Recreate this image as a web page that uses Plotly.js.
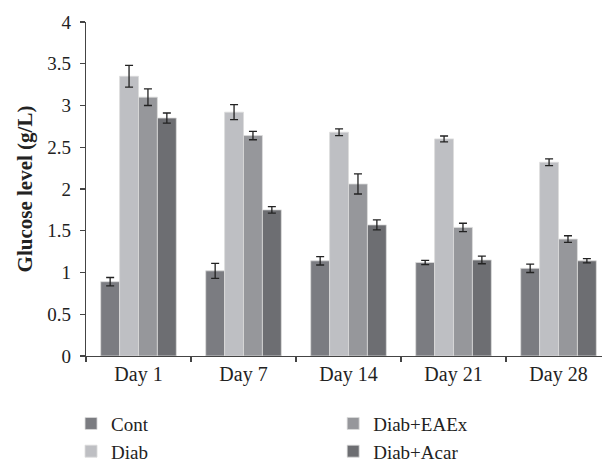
<!DOCTYPE html>
<html>
<head>
<meta charset="utf-8">
<script src="https://cdn.plot.ly/plotly-3.0.1.min.js"></script>
<style>html,body{margin:0;padding:0;background:#fff;}</style>
</head>
<body>
<div id="chart" style="width:602px;height:464px;"></div>
<script>
const days = ["Day 1", "Day 7", "Day 14", "Day 21", "Day 28"];
const seriesNames = ["Cont", "Diab", "Diab+EAEx", "Diab+Acar"];
const cont = [0.89, 1.02, 1.14, 1.12, 1.05];
const contErr = [0.05, 0.09, 0.05, 0.025, 0.05];
const diab = [3.35, 2.92, 2.68, 2.60, 2.32];
const diabErr = [0.13, 0.09, 0.04, 0.035, 0.04];
const eaex = [3.10, 2.64, 2.06, 1.54, 1.40];
const eaexErr = [0.10, 0.05, 0.12, 0.05, 0.04];
const acar = [2.85, 1.75, 1.57, 1.15, 1.14];
const acarErr = [0.06, 0.04, 0.06, 0.045, 0.025];
const yTicks = [0, 0.5, 1, 1.5, 2, 2.5, 3, 3.5, 4];

const colors = ["#7b7c81", "#bebfc3", "#96979b", "#6d6e72"];
const legendIds = ["legend", "legend", "legend2", "legend2"];
const vals = [cont, diab, eaex, acar];
const errs = [contErr, diabErr, eaexErr, acarErr];

const traces = seriesNames.map((name, i) => ({
  type: "bar",
  name: name,
  x: days,
  y: vals[i],
  legend: legendIds[i],
  marker: {color: colors[i], line: {color: "#dcdcdc", width: 0.8}},
  error_y: {type: "data", array: errs[i], visible: true, color: "#222", thickness: 1.3, width: 4}
}));

const font = {family: "Liberation Serif, Times New Roman, serif", color: "#222"};

const legendBase = {
  orientation: "v", xref: "paper", yref: "container",
  xanchor: "left", y: 0.128, yanchor: "top",
  traceorder: "normal", tracegroupgap: 0, itemwidth: 30,
  bgcolor: "rgba(0,0,0,0)",
  font: Object.assign({size: 19}, font)
};

const layout = {
  width: 602, height: 464,
  margin: {l: 86, r: 0, t: 22, b: 108},
  paper_bgcolor: "#fff", plot_bgcolor: "#fff",
  barmode: "group", bargap: 0.28, bargroupgap: 0,
  font: Object.assign({size: 19}, font),
  showlegend: true,
  legend: Object.assign({}, legendBase, {x: -0.029}),
  legend2: Object.assign({}, legendBase, {x: 0.479}),
  xaxis: {
    type: "category", range: [-0.5, 4.414],
    showline: true, linecolor: "#444", linewidth: 1.3,
    ticks: "outside", tickson: "boundaries", ticklen: 5, tickcolor: "#444", tickwidth: 1.3,
    tickfont: Object.assign({size: 20}, font),
    tickangle: 0,
    showgrid: false, zeroline: false
  },
  yaxis: {
    range: [0, 4], tickvals: yTicks, ticktext: yTicks.map(String),
    showline: true, linecolor: "#444", linewidth: 1.3,
    ticks: "outside", ticklen: 5, tickcolor: "#444", tickwidth: 1.3,
    ticklabelstandoff: 5,
    tickfont: Object.assign({size: 19}, font),
    showgrid: false, zeroline: false,
    title: {text: "<b>Glucose level (g/L)</b>", font: Object.assign({size: 21}, font), standoff: 8}
  }
};

Plotly.newPlot("chart", traces, layout, {displayModeBar: false, staticPlot: true});
</script>
</body>
</html>
